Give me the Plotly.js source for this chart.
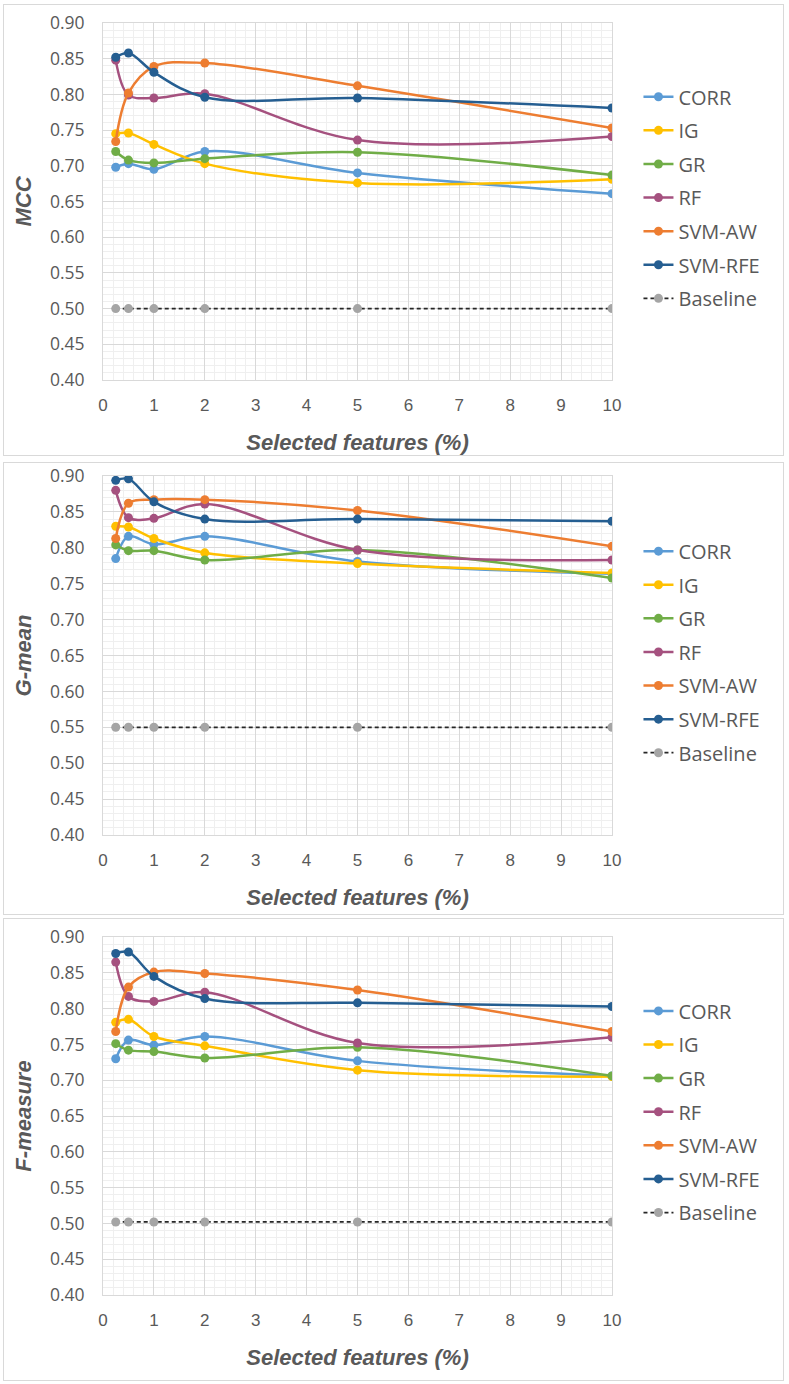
<!DOCTYPE html>
<html>
<head>
<meta charset="utf-8">
<script src="https://cdn.plot.ly/plotly-3.0.1.min.js"></script>
<style>
  html, body { margin: 0; padding: 0; background: #ffffff; }
  body { width: 789px; height: 1384px; position: relative; overflow: hidden; }
  .panel { position: absolute; left: 3px; width: 781px; outline: 1px solid #d9d9d9; outline-offset: -1px; background: #fff; }
</style>
</head>
<body>
<div id="p1" class="panel" style="top:4px;height:452px;"></div>
<div id="p2" class="panel" style="top:462px;height:453px;"></div>
<div id="p3" class="panel" style="top:918px;height:463px;"></div>
<script>
// Selected features (%)
const xPct = [0.25, 0.5, 1, 2, 5, 10];
const methods = ["CORR", "IG", "GR", "RF", "SVM-AW", "SVM-RFE"];
const colors = ["#5B9BD5", "#FFC000", "#70AD47", "#A5517F", "#ED7D31", "#255E91"];

// MCC
const mccCORR   = [0.698, 0.703, 0.695, 0.720, 0.690, 0.661];
const mccIG     = [0.745, 0.746, 0.730, 0.703, 0.676, 0.681];
const mccGR     = [0.720, 0.708, 0.704, 0.710, 0.719, 0.687];
const mccRF     = [0.848, 0.799, 0.795, 0.801, 0.736, 0.741];
const mccSVMAW  = [0.734, 0.802, 0.839, 0.844, 0.812, 0.753];
const mccSVMRFE = [0.852, 0.858, 0.831, 0.796, 0.795, 0.781];
const mccBase   = [0.50, 0.50, 0.50, 0.50, 0.50, 0.50];

// G-mean
const gmCORR   = [0.785, 0.816, 0.805, 0.816, 0.781, 0.764];
const gmIG     = [0.830, 0.829, 0.813, 0.793, 0.778, 0.765];
const gmGR     = [0.804, 0.796, 0.796, 0.783, 0.797, 0.758];
const gmRF     = [0.880, 0.842, 0.841, 0.861, 0.797, 0.783];
const gmSVMAW  = [0.813, 0.862, 0.867, 0.867, 0.852, 0.802];
const gmSVMRFE = [0.894, 0.896, 0.864, 0.840, 0.840, 0.837];
const gmBase   = [0.55, 0.55, 0.55, 0.55, 0.55, 0.55];

// F-measure
const fmCORR   = [0.730, 0.756, 0.749, 0.761, 0.727, 0.706];
const fmIG     = [0.781, 0.785, 0.761, 0.748, 0.714, 0.705];
const fmGR     = [0.751, 0.742, 0.740, 0.731, 0.746, 0.706];
const fmRF     = [0.865, 0.817, 0.810, 0.823, 0.752, 0.760];
const fmSVMAW  = [0.768, 0.830, 0.851, 0.849, 0.826, 0.768];
const fmSVMRFE = [0.877, 0.879, 0.845, 0.814, 0.808, 0.803];
const fmBase   = [0.502, 0.502, 0.502, 0.502, 0.502, 0.502];

const xTitle = "Selected features (%)";
const FONT = "'Open Sans', 'DejaVu Sans', sans-serif";
const TXT = "#595959";

function makeTraces(series, base) {
  const traces = series.map((ys, i) => ({
    x: xPct, y: ys, name: methods[i], type: "scatter", mode: "lines+markers",
    line: { color: colors[i], width: 2.5, shape: "spline", smoothing: 1 },
    marker: { color: colors[i], size: 9 },
    legendgroup: "g" + i
  }));
  traces.push({
    x: xPct, y: base, name: "Baseline", type: "scatter", mode: "lines+markers",
    line: { color: "#262626", width: 1.75, dash: "4px,3px" },
    marker: { color: "#A5A5A5", size: 9 },
    legendgroup: "g6"
  });
  return traces;
}

function makeLayout(yTitle, h, t, b, legY) {
  return {
    width: 781, height: h,
    margin: { l: 100, r: 172, t: t, b: b },
    paper_bgcolor: "rgba(0,0,0,0)", plot_bgcolor: "#ffffff",
    font: { family: FONT, color: TXT, size: 16 },
    showlegend: true,
    legend: {
      x: 1.052, xanchor: "left", y: legY, yanchor: "top",
      font: { family: FONT, color: TXT, size: 20 },
      traceorder: "grouped", tracegroupgap: 4.6, bgcolor: "rgba(0,0,0,0)"
    },
    xaxis: {
      range: [0, 10], dtick: 1, tick0: 0, showgrid: true, gridcolor: "#d9d9d9", gridwidth: 1,
      minor: { dtick: 0.2, showgrid: true, gridcolor: "#efefef", gridwidth: 1 },
      zeroline: false, showline: true, linecolor: "#d9d9d9", mirror: true, ticks: "",
      tickfont: { family: "'Liberation Sans Narrow', 'Liberation Sans', sans-serif", size: 17, color: TXT },
      ticklabelstandoff: 10,
      title: { text: "<b><i>" + xTitle + "</i></b>", font: { family: "'Liberation Sans', sans-serif", size: 22, color: TXT }, standoff: 20 }
    },
    yaxis: {
      range: [0.40, 0.90], dtick: 0.05, tick0: 0.40, tickformat: ".2f", showgrid: true, gridcolor: "#d9d9d9", gridwidth: 1,
      minor: { dtick: 0.01, showgrid: true, gridcolor: "#efefef", gridwidth: 1 },
      zeroline: false, showline: true, linecolor: "#d9d9d9", mirror: true, ticks: "",
      tickfont: { family: FONT, size: 17.5, color: TXT },
      ticklabelstandoff: 14,
      title: { text: "<b><i>" + yTitle + "</i></b>", font: { family: "'Liberation Sans', sans-serif", size: 22, color: TXT }, standoff: 12 }
    }
  };
}

const cfg = { displayModeBar: false, staticPlot: true };

Plotly.newPlot("p1", makeTraces([mccCORR, mccIG, mccGR, mccRF, mccSVMAW, mccSVMRFE], mccBase),
  makeLayout("MCC", 452, 19, 76, 0.848), cfg);
Plotly.newPlot("p2", makeTraces([gmCORR, gmIG, gmGR, gmRF, gmSVMAW, gmSVMRFE], gmBase),
  makeLayout("G-mean", 453, 14, 80, 0.845), cfg);
Plotly.newPlot("p3", makeTraces([fmCORR, fmIG, fmGR, fmRF, fmSVMAW, fmSVMRFE], fmBase),
  makeLayout("F-measure", 463, 19, 86, 0.848), cfg);
</script>
</body>
</html>
